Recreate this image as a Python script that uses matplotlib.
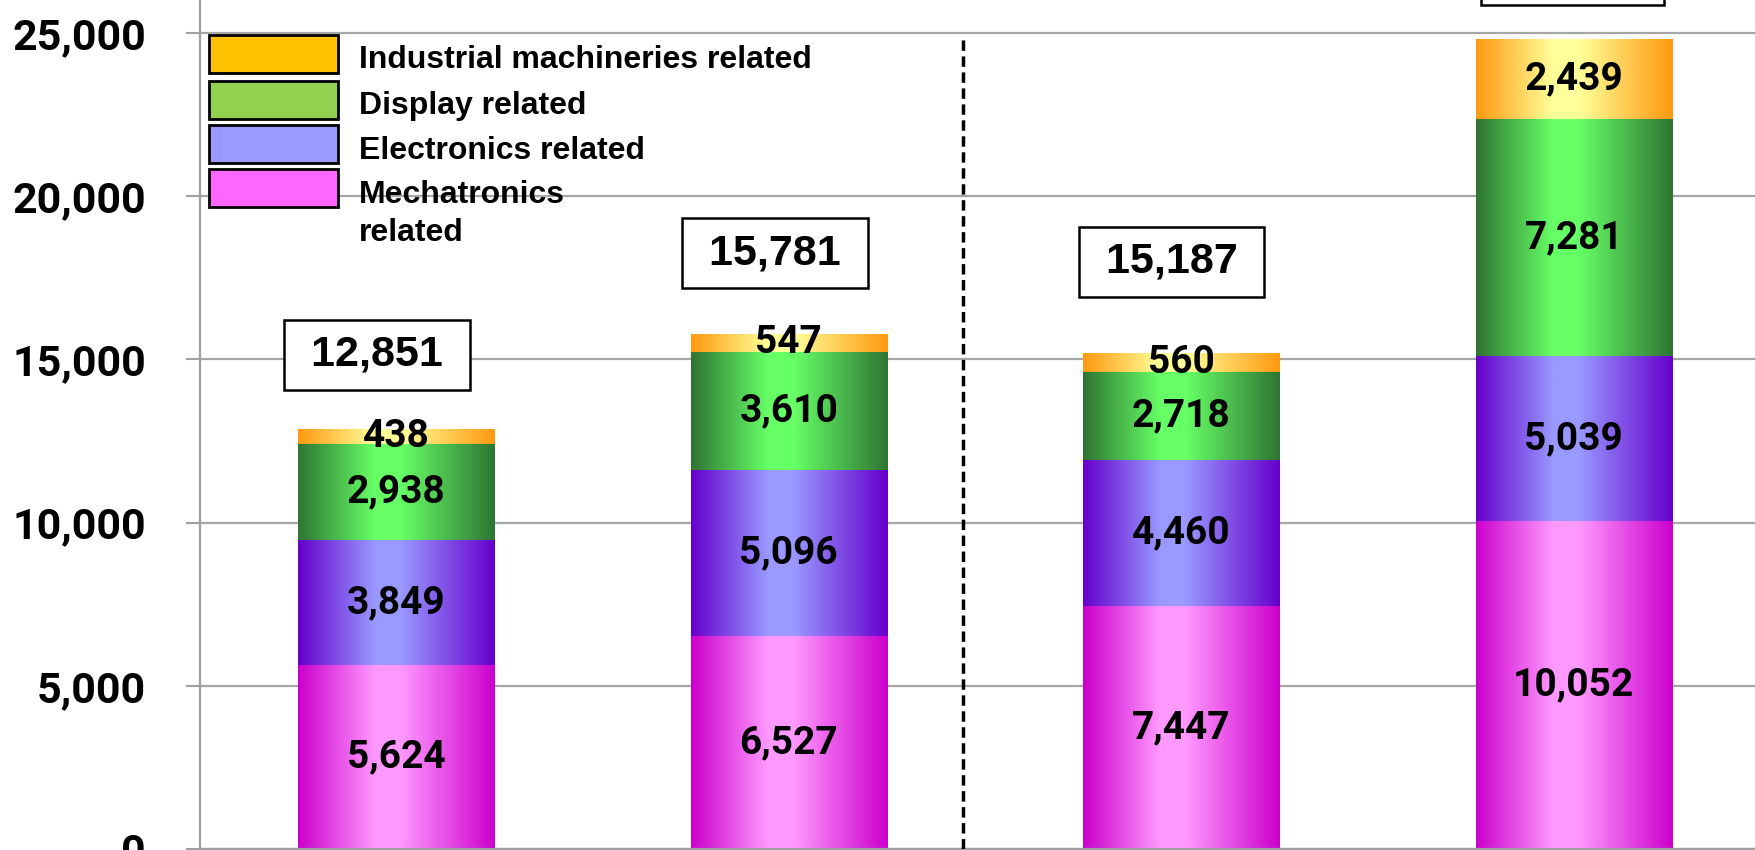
import matplotlib
matplotlib.use("Agg")
import matplotlib.pyplot as plt
from matplotlib.patches import Rectangle
import numpy as np

# data (million yen), bottom to top of each stack
series_names = ["Mechatronics related", "Electronics related",
                "Display related", "Industrial machineries related"]
mechatronics = [5624, 6527, 7447, 10052]
electronics = [3849, 5096, 4460, 5039]
display = [2938, 3610, 2718, 7281]
industrial = [438, 547, 560, 2439]
totals = [12851, 15781, 15187, 24811]
yticks = [0, 5000, 10000, 15000, 20000, 25000]

W, H = 1755, 850
fig = plt.figure(figsize=(W / 100, H / 100), dpi=100)
ax = fig.add_axes([200 / W, 1 / H, 1570 / W, 848.6 / H])

# gradient colours: (edge, centre)
grads = [("#CC00CC", "#FF99FF"),
         ("#6600CC", "#9999FF"),
         ("#2F7533", "#66FF66"),
         ("#FF9910", "#FFFF99")]
legend_cols = ["#FF66FF", "#9999FF", "#92D050", "#FFC000"]


def hex2rgb(h):
    return np.array([int(h[i:i + 2], 16) for i in (1, 3, 5)]) / 255.0


def gradient(edge, centre, n=200, peak=0.45):
    t = np.linspace(0, 1, n)
    f = np.where(t < peak, t / peak, (1 - t) / (1 - peak))
    f = np.clip(f * 1.15, 0, 1)
    e, c = hex2rgb(edge), hex2rgb(centre)
    return (e[None, :] * (1 - f[:, None]) + c[None, :] * f[:, None])[None, :, :]


x = np.arange(len(totals))
width = 0.5
stack = [mechatronics, electronics, display, industrial]
bottom = np.zeros(len(x))
for vals, (ec, cc) in zip(stack, grads):
    bars = ax.bar(x, vals, width, bottom=bottom, color="none", zorder=2)
    img = gradient(ec, cc)
    for b, v in zip(bars, vals):
        x0, y0 = b.get_x(), b.get_y()
        ax.imshow(img, extent=[x0, x0 + b.get_width(), y0, y0 + b.get_height()],
                  aspect="auto", zorder=2, interpolation="bilinear")
        ax.text(x0 + b.get_width() / 2, y0 + b.get_height() / 2, f"{v:,}",
                ha="center", va="center", fontsize=28, fontweight="bold",
                family="Roboto", zorder=4)
    bottom += np.array(vals)

# total boxes above stacks (offsets in points)
offsets = [(-14, 54), (-10, 58), (-7, 66), (-1, 50)]
for xi, top, tot, off in zip(x, bottom, totals, offsets):
    ax.annotate(f" {tot:,} ", (xi, top), xytext=off, textcoords="offset points",
                ha="center", va="center", fontsize=31, fontweight="bold",
                family="Liberation Sans", zorder=5, annotation_clip=False,
                bbox=dict(boxstyle="square,pad=0.35", fc="white", ec="black", lw=1.8))

# dashed separator between the two groups
ax.axvline(1.445, ymin=0, ymax=24900 / 26000, color="black", lw=2.5,
           ls=(0, (3, 1.6)), zorder=3)

ax.set_xlim(-0.5, 3.5)
ax.set_ylim(0, 26000)
ax.set_yticks(yticks)
ax.set_yticklabels([f"{v:,}" for v in yticks], fontsize=31, fontweight="bold",
                   family="Roboto")
ax.set_xticks([])
ax.tick_params(axis="y", length=10, width=1.5, color="#A0A0A0", pad=29)
ax.yaxis.grid(True, color="#A6A6A6", lw=1.6)
ax.set_axisbelow(True)
for s in ["top", "right"]:
    ax.spines[s].set_visible(False)
for s in ["left", "bottom"]:
    ax.spines[s].set_color("#A0A0A0")
    ax.spines[s].set_linewidth(1.6)

# legend drawn by hand (top to bottom)
patch_tops = [35, 81, 125, 169]
baselines = [[68], [114], [159], [203, 241]]
leg_labels = [["Industrial machineries related"], ["Display related"],
              ["Electronics related"], ["Mechatronics", "related"]]
for col, ptop, bls, labs in zip(legend_cols[::-1], patch_tops, baselines, leg_labels):
    fig.add_artist(Rectangle((209 / W, 1 - (ptop + 38) / H), 129 / W, 38 / H,
                             transform=fig.transFigure, fc=col, ec="black", lw=2,
                             zorder=6))
    for bl, lab in zip(bls, labs):
        fig.text(359 / W, 1 - bl / H, lab, ha="left", va="baseline", fontsize=23,
                 fontweight="bold", family="Liberation Sans", zorder=6)

fig.savefig("out.png", dpi=100)
